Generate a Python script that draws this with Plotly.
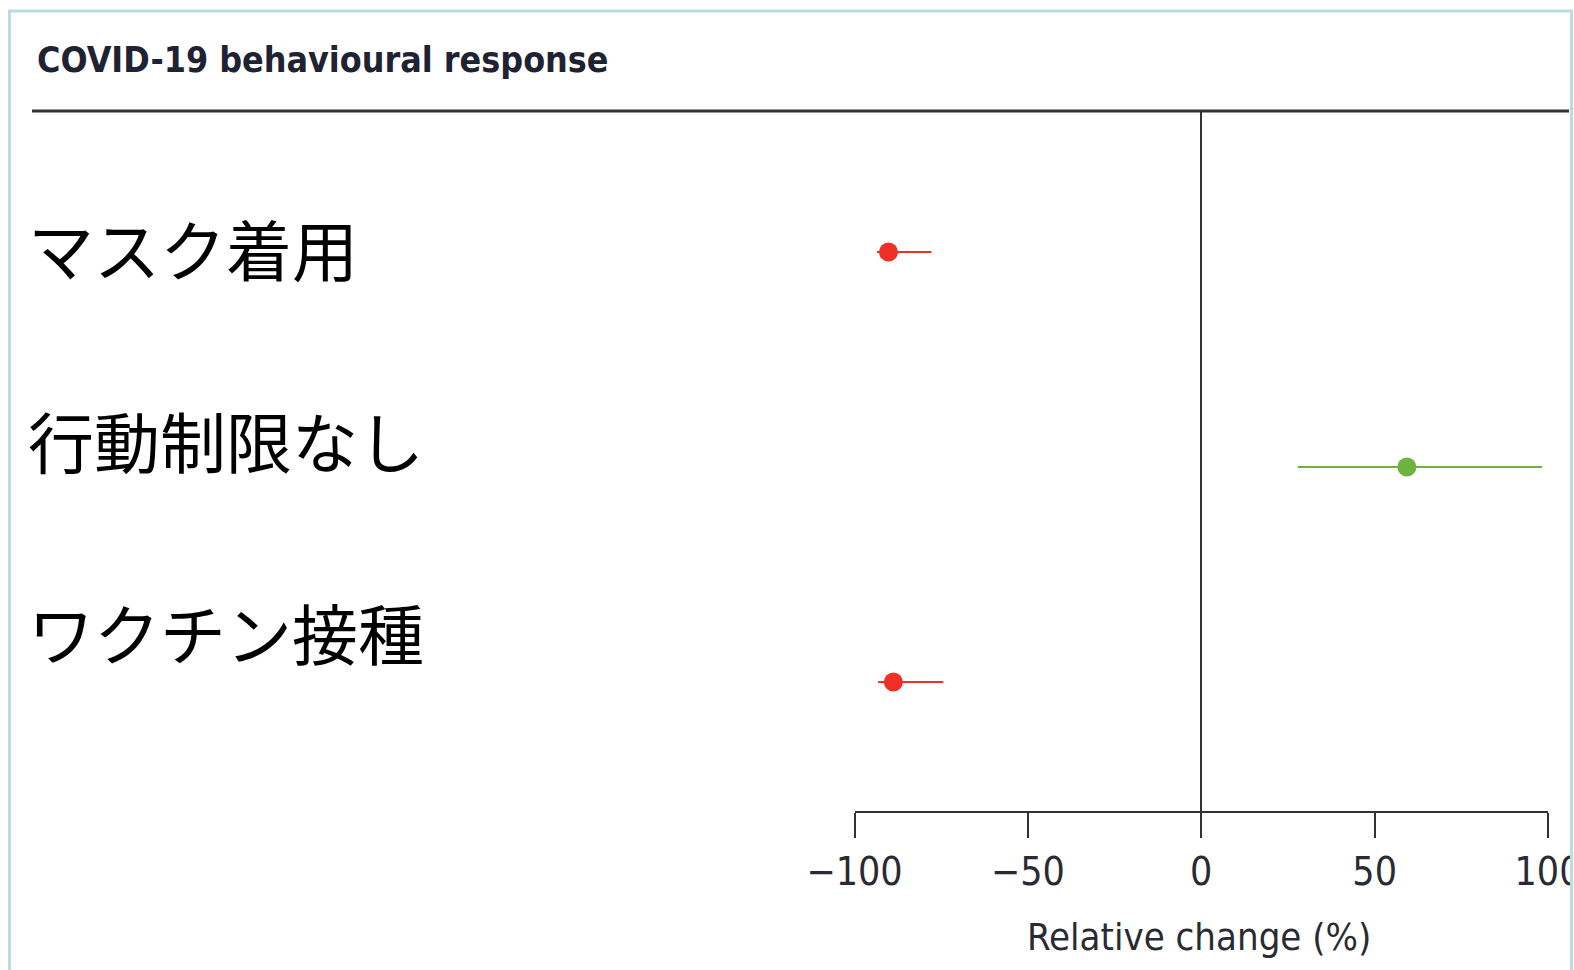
import plotly.graph_objects as go

# ---- data ----
categories = ["マスク着用", "行動制限なし", "ワクチン接種"]
estimate = [-90.2, 59.3, -88.8]
lower = [-93.5, 27.9, -93.2]
upper = [-77.8, 98.3, -74.4]
colors = ["#ee3124", "#6db33f", "#ee3124"]
tick_vals = [-100, -50, 0, 50, 100]
title_text = "COVID-19 behavioural response"
axis_title = "Relative change (%)"

W, H = 1574, 970
def px(x):
    return x / W
def py(y):
    return 1 - y / H

NARROW = "DejaVu Sans Condensed, Liberation Sans Narrow, sans-serif"
CJK = "Noto Sans CJK JP, sans-serif"

fig = go.Figure()
for i, cat in enumerate(categories):
    fig.add_trace(go.Scatter(
        x=[estimate[i]], y=[cat], mode="markers",
        marker=dict(color=colors[i], size=19, line=dict(width=0)),
        error_x=dict(type="data", symmetric=False,
                     array=[upper[i] - estimate[i]],
                     arrayminus=[estimate[i] - lower[i]],
                     color=colors[i], thickness=2.2, width=0),
        showlegend=False, hoverinfo="skip",
    ))

annotations = [
    dict(text=title_text, x=px(35), y=py(59), xref="paper", yref="paper",
         xanchor="left", yanchor="middle", showarrow=False,
         font=dict(family=NARROW, size=35.5, color="#1f2233", weight="bold")),
    dict(text=axis_title, x=px(1199), y=py(937), xref="paper", yref="paper",
         xanchor="center", yanchor="middle", showarrow=False,
         font=dict(family=NARROW, size=38, color="#2a2a33")),
]
label_y = [247, 439, 631]
for cat, ly in zip(categories, label_y):
    annotations.append(dict(text=cat, x=px(26), y=py(ly), xref="paper", yref="paper",
                            xanchor="left", yanchor="middle", showarrow=False,
                            font=dict(family=CJK, size=66, color="#000000")))

shapes = [
    # rule under title
    dict(type="line", xref="paper", yref="paper", x0=px(32), x1=px(1569),
         y0=py(111), y1=py(111), line=dict(color="#333333", width=3), layer="above"),
    # crop at right edge
    dict(type="rect", xref="paper", yref="paper", x0=px(1571), x1=px(1600),
         y0=0, y1=1, fillcolor="white", line=dict(width=0), layer="above"),
    # outer frame
    dict(type="rect", xref="paper", yref="paper", x0=px(9.5), x1=px(1571.5),
         y0=py(985), y1=py(11), fillcolor="rgba(0,0,0,0)",
         line=dict(color="#b7dfe2", width=3), layer="above"),
]

fig.update_layout(
    width=W, height=H, autosize=False,
    margin=dict(l=0, r=0, t=0, b=0, pad=0, autoexpand=False),
    paper_bgcolor="white", plot_bgcolor="white",
    annotations=annotations, shapes=shapes,
    xaxis=dict(domain=[px(854.5), px(1548)], range=[-100, 100],
               tickvals=tick_vals, ticks="outside", ticklen=25, tickwidth=2,
               tickcolor="#333333", showline=True, linecolor="#333333", linewidth=2,
               showgrid=False, zeroline=True, zerolinecolor="#333333", zerolinewidth=2,
               tickfont=dict(family=NARROW, size=39, color="#2a2a33"),
               ticklabeloverflow="allow", automargin=False,
               fixedrange=True),
    yaxis=dict(domain=[py(811), py(111)], type="category",
               categoryorder="array", categoryarray=categories,
               range=[2.6, -0.6558], showticklabels=False, ticks="",
               showline=False, showgrid=False, zeroline=False, fixedrange=True,
               automargin=False),
)

fig.write_html("out.html", config={"displayModeBar": False},
               post_script="document.body.style.margin='0';document.body.style.overflow='hidden';")
